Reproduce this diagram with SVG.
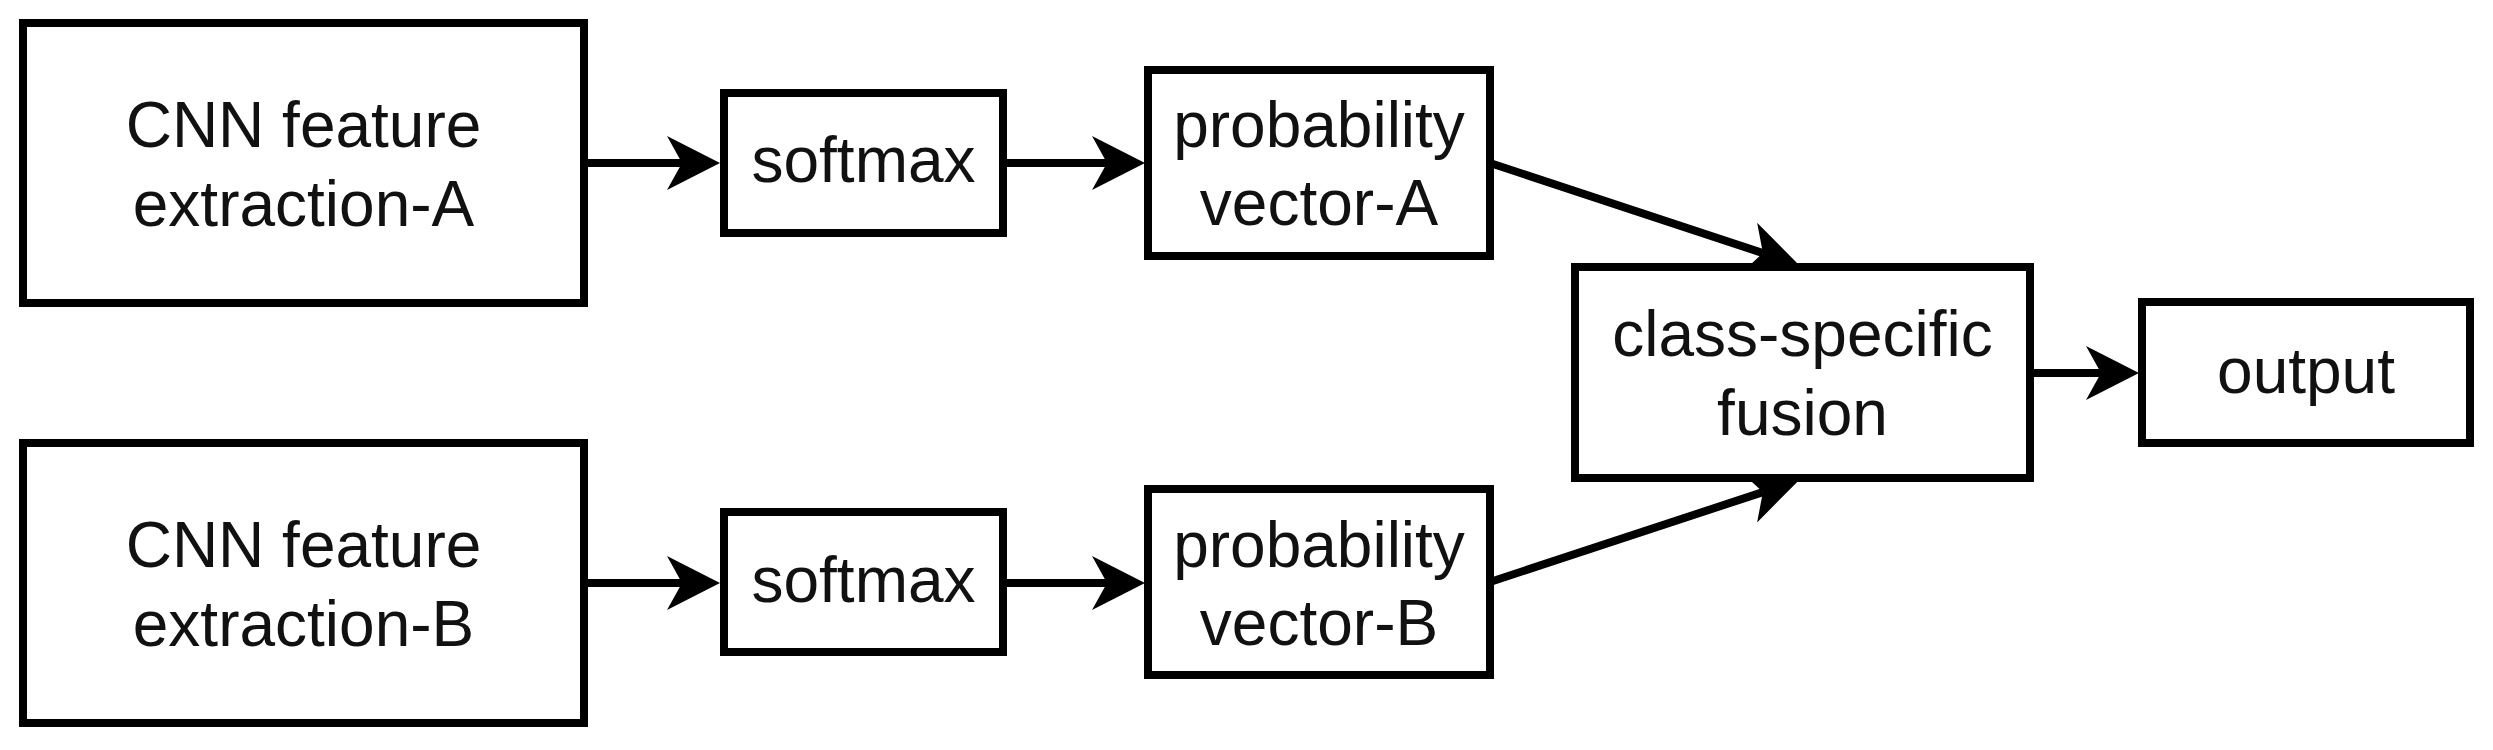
<svg xmlns="http://www.w3.org/2000/svg" width="2493" height="750" viewBox="0 0 2493 750">
  <style>
    .box { fill: #ffffff; stroke: #000000; stroke-width: 8; }
    .lbl { font-family: "Liberation Sans", Arial, sans-serif; font-size: 64px; fill: #111111; text-anchor: middle; }
    .edge { fill: none; stroke: #000000; stroke-width: 8; marker-end: url(#arrow); }
  </style>
  <defs>
    <marker id="arrow" markerUnits="userSpaceOnUse" viewBox="-20 -30 62 60" markerWidth="62" markerHeight="60" refX="0" refY="0" orient="auto">
      <path d="M38,0 L-15,-27 L0,0 L-15,27 Z" fill="#000000"/>
    </marker>
  </defs>
  <rect width="2493" height="750" fill="#ffffff"/>

  <g id="connectors">
    <path class="edge" d="M584,163 L682,163"/>
    <path class="edge" d="M1003,163 L1107,163"/>
    <path class="edge" d="M1490,163 L1762.9,253.1"/>
    <path class="edge" d="M584,583 L682,583"/>
    <path class="edge" d="M1003,583 L1107,583"/>
    <path class="edge" d="M1490,582 L1762.9,492.1"/>
    <path class="edge" d="M2030,373 L2101,373"/>
  </g>

  <g id="cnn-a">
    <rect class="box" x="23" y="23" width="561" height="280"/>
    <text class="lbl" x="303.5" y="147">CNN feature</text>
    <text class="lbl" x="303.5" y="226">extraction-A</text>
  </g>
  <g id="softmax-a">
    <rect class="box" x="724" y="93" width="279" height="140"/>
    <text class="lbl" x="863.5" y="182">softmax</text>
  </g>
  <g id="prob-a">
    <rect class="box" x="1148" y="70" width="342" height="186"/>
    <text class="lbl" x="1319" y="147">probability</text>
    <text class="lbl" x="1319" y="225">vector-A</text>
  </g>

  <g id="cnn-b">
    <rect class="box" x="23" y="443" width="561" height="280"/>
    <text class="lbl" x="303.5" y="567">CNN feature</text>
    <text class="lbl" x="303.5" y="646">extraction-B</text>
  </g>
  <g id="softmax-b">
    <rect class="box" x="724" y="512" width="279" height="140"/>
    <text class="lbl" x="863.5" y="602">softmax</text>
  </g>
  <g id="prob-b">
    <rect class="box" x="1148" y="489" width="342" height="186"/>
    <text class="lbl" x="1319" y="567">probability</text>
    <text class="lbl" x="1319" y="645">vector-B</text>
  </g>

  <g id="fusion">
    <rect class="box" x="1575" y="267" width="455" height="211"/>
    <text class="lbl" x="1802.5" y="356">class-specific</text>
    <text class="lbl" x="1802.5" y="435">fusion</text>
  </g>
  <g id="output">
    <rect class="box" x="2142" y="302" width="328" height="141"/>
    <text class="lbl" x="2306" y="393">output</text>
  </g>
</svg>
